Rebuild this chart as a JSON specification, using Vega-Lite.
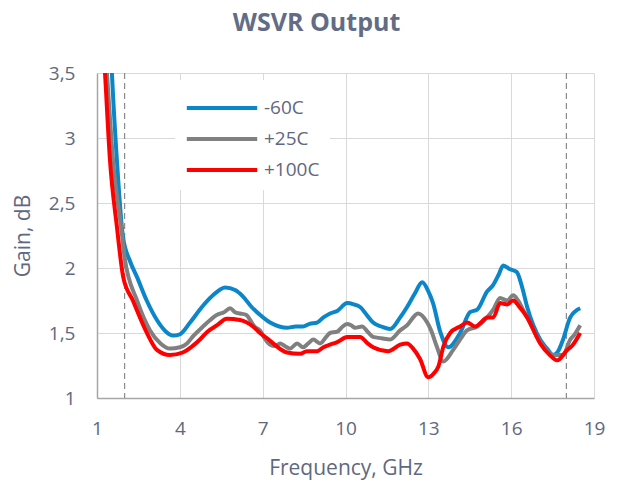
{
  "$schema": "https://vega.github.io/schema/vega-lite/v6.json",
  "width": 497,
  "height": 325,
  "autosize": {"type": "none"},
  "padding": {"left": 97, "top": 73, "right": 27, "bottom": 85},
  "background": "white",
  "config": {
    "font": "Open Sans",
    "view": {"stroke": null},
    "axis": {
      "labelFont": "Open Sans",
      "titleFont": "Open Sans",
      "labelColor": "#5f6880",
      "titleColor": "#5f6880",
      "labelFontSize": 19,
      "titleFontSize": 21,
      "titleFontWeight": "normal",
      "gridColor": "#d9d9d9",
      "gridWidth": 1,
      "domainColor": "#a6a6a6",
      "domainWidth": 1.5,
      "ticks": false,
      "labelFlush": false
    }
  },
  "title": {
    "text": "WSVR Output",
    "font": "Open Sans",
    "fontSize": 25,
    "fontWeight": "bold",
    "color": "#636c85",
    "anchor": "middle",
    "dx": -29,
    "offset": 28
  },
  "datasets": {
    "curves": [
      {"f": 1.4, "g": 4.2, "s": "-60C"},
      {"f": 1.54, "g": 3.5, "s": "-60C"},
      {"f": 1.72, "g": 2.83, "s": "-60C"},
      {"f": 1.94, "g": 2.24, "s": "-60C"},
      {"f": 2.2, "g": 2.05, "s": "-60C"},
      {"f": 2.45, "g": 1.93, "s": "-60C"},
      {"f": 2.8, "g": 1.75, "s": "-60C"},
      {"f": 3.17, "g": 1.6, "s": "-60C"},
      {"f": 3.5, "g": 1.51, "s": "-60C"},
      {"f": 3.75, "g": 1.48, "s": "-60C"},
      {"f": 4.0, "g": 1.49, "s": "-60C"},
      {"f": 4.37, "g": 1.58, "s": "-60C"},
      {"f": 4.8, "g": 1.7, "s": "-60C"},
      {"f": 5.2, "g": 1.79, "s": "-60C"},
      {"f": 5.64, "g": 1.85, "s": "-60C"},
      {"f": 6.0, "g": 1.83, "s": "-60C"},
      {"f": 6.29, "g": 1.78, "s": "-60C"},
      {"f": 6.6, "g": 1.7, "s": "-60C"},
      {"f": 6.9, "g": 1.64, "s": "-60C"},
      {"f": 7.27, "g": 1.58, "s": "-60C"},
      {"f": 7.6, "g": 1.55, "s": "-60C"},
      {"f": 7.88, "g": 1.54, "s": "-60C"},
      {"f": 8.2, "g": 1.55, "s": "-60C"},
      {"f": 8.46, "g": 1.55, "s": "-60C"},
      {"f": 8.7, "g": 1.57, "s": "-60C"},
      {"f": 8.97, "g": 1.58, "s": "-60C"},
      {"f": 9.2, "g": 1.62, "s": "-60C"},
      {"f": 9.44, "g": 1.65, "s": "-60C"},
      {"f": 9.7, "g": 1.67, "s": "-60C"},
      {"f": 10.06, "g": 1.73, "s": "-60C"},
      {"f": 10.3, "g": 1.72, "s": "-60C"},
      {"f": 10.53, "g": 1.7, "s": "-60C"},
      {"f": 10.8, "g": 1.63, "s": "-60C"},
      {"f": 11.0, "g": 1.58, "s": "-60C"},
      {"f": 11.3, "g": 1.55, "s": "-60C"},
      {"f": 11.62, "g": 1.53, "s": "-60C"},
      {"f": 11.98, "g": 1.62, "s": "-60C"},
      {"f": 12.23, "g": 1.7, "s": "-60C"},
      {"f": 12.5, "g": 1.8, "s": "-60C"},
      {"f": 12.78, "g": 1.89, "s": "-60C"},
      {"f": 13.0, "g": 1.82, "s": "-60C"},
      {"f": 13.17, "g": 1.73, "s": "-60C"},
      {"f": 13.43, "g": 1.51, "s": "-60C"},
      {"f": 13.72, "g": 1.39, "s": "-60C"},
      {"f": 14.15, "g": 1.5, "s": "-60C"},
      {"f": 14.51, "g": 1.66, "s": "-60C"},
      {"f": 14.77, "g": 1.68, "s": "-60C"},
      {"f": 15.13, "g": 1.82, "s": "-60C"},
      {"f": 15.35, "g": 1.87, "s": "-60C"},
      {"f": 15.55, "g": 1.95, "s": "-60C"},
      {"f": 15.71, "g": 2.02, "s": "-60C"},
      {"f": 15.96, "g": 1.99, "s": "-60C"},
      {"f": 16.2, "g": 1.97, "s": "-60C"},
      {"f": 16.4, "g": 1.85, "s": "-60C"},
      {"f": 16.58, "g": 1.7, "s": "-60C"},
      {"f": 17.05, "g": 1.45, "s": "-60C"},
      {"f": 17.3, "g": 1.38, "s": "-60C"},
      {"f": 17.52, "g": 1.33, "s": "-60C"},
      {"f": 17.7, "g": 1.36, "s": "-60C"},
      {"f": 17.88, "g": 1.45, "s": "-60C"},
      {"f": 18.14, "g": 1.62, "s": "-60C"},
      {"f": 18.5, "g": 1.69, "s": "-60C"},

      {"f": 1.2, "g": 4.0, "s": "+25C"},
      {"f": 1.36, "g": 3.5, "s": "+25C"},
      {"f": 1.58, "g": 2.83, "s": "+25C"},
      {"f": 1.9, "g": 2.27, "s": "+25C"},
      {"f": 2.0, "g": 2.08, "s": "+25C"},
      {"f": 2.45, "g": 1.75, "s": "+25C"},
      {"f": 2.92, "g": 1.52, "s": "+25C"},
      {"f": 3.3, "g": 1.42, "s": "+25C"},
      {"f": 3.64, "g": 1.38, "s": "+25C"},
      {"f": 4.0, "g": 1.39, "s": "+25C"},
      {"f": 4.26, "g": 1.42, "s": "+25C"},
      {"f": 4.5, "g": 1.48, "s": "+25C"},
      {"f": 4.84, "g": 1.55, "s": "+25C"},
      {"f": 5.1, "g": 1.6, "s": "+25C"},
      {"f": 5.35, "g": 1.64, "s": "+25C"},
      {"f": 5.6, "g": 1.66, "s": "+25C"},
      {"f": 5.82, "g": 1.69, "s": "+25C"},
      {"f": 6.0, "g": 1.66, "s": "+25C"},
      {"f": 6.18, "g": 1.65, "s": "+25C"},
      {"f": 6.4, "g": 1.64, "s": "+25C"},
      {"f": 6.7, "g": 1.55, "s": "+25C"},
      {"f": 6.9, "g": 1.52, "s": "+25C"},
      {"f": 7.1, "g": 1.45, "s": "+25C"},
      {"f": 7.27, "g": 1.41, "s": "+25C"},
      {"f": 7.45, "g": 1.4, "s": "+25C"},
      {"f": 7.63, "g": 1.42, "s": "+25C"},
      {"f": 7.8, "g": 1.4, "s": "+25C"},
      {"f": 7.99, "g": 1.38, "s": "+25C"},
      {"f": 8.25, "g": 1.42, "s": "+25C"},
      {"f": 8.46, "g": 1.39, "s": "+25C"},
      {"f": 8.65, "g": 1.42, "s": "+25C"},
      {"f": 8.83, "g": 1.45, "s": "+25C"},
      {"f": 9.08, "g": 1.42, "s": "+25C"},
      {"f": 9.3, "g": 1.47, "s": "+25C"},
      {"f": 9.44, "g": 1.5, "s": "+25C"},
      {"f": 9.7, "g": 1.51, "s": "+25C"},
      {"f": 9.9, "g": 1.55, "s": "+25C"},
      {"f": 10.06, "g": 1.57, "s": "+25C"},
      {"f": 10.2, "g": 1.56, "s": "+25C"},
      {"f": 10.35, "g": 1.54, "s": "+25C"},
      {"f": 10.6, "g": 1.55, "s": "+25C"},
      {"f": 10.8, "g": 1.51, "s": "+25C"},
      {"f": 11.0, "g": 1.47, "s": "+25C"},
      {"f": 11.3, "g": 1.46, "s": "+25C"},
      {"f": 11.62, "g": 1.45, "s": "+25C"},
      {"f": 11.98, "g": 1.52, "s": "+25C"},
      {"f": 12.23, "g": 1.56, "s": "+25C"},
      {"f": 12.63, "g": 1.65, "s": "+25C"},
      {"f": 12.96, "g": 1.58, "s": "+25C"},
      {"f": 13.1, "g": 1.52, "s": "+25C"},
      {"f": 13.3, "g": 1.4, "s": "+25C"},
      {"f": 13.54, "g": 1.28, "s": "+25C"},
      {"f": 13.9, "g": 1.37, "s": "+25C"},
      {"f": 14.15, "g": 1.45, "s": "+25C"},
      {"f": 14.4, "g": 1.52, "s": "+25C"},
      {"f": 14.77, "g": 1.55, "s": "+25C"},
      {"f": 15.13, "g": 1.62, "s": "+25C"},
      {"f": 15.35, "g": 1.68, "s": "+25C"},
      {"f": 15.6, "g": 1.77, "s": "+25C"},
      {"f": 15.86, "g": 1.75, "s": "+25C"},
      {"f": 16.07, "g": 1.79, "s": "+25C"},
      {"f": 16.25, "g": 1.75, "s": "+25C"},
      {"f": 16.43, "g": 1.68, "s": "+25C"},
      {"f": 16.7, "g": 1.57, "s": "+25C"},
      {"f": 16.94, "g": 1.47, "s": "+25C"},
      {"f": 17.2, "g": 1.39, "s": "+25C"},
      {"f": 17.52, "g": 1.33, "s": "+25C"},
      {"f": 17.88, "g": 1.33, "s": "+25C"},
      {"f": 18.14, "g": 1.45, "s": "+25C"},
      {"f": 18.3, "g": 1.49, "s": "+25C"},
      {"f": 18.5, "g": 1.56, "s": "+25C"},

      {"f": 1.15, "g": 4.0, "s": "+100C"},
      {"f": 1.29, "g": 3.5, "s": "+100C"},
      {"f": 1.47, "g": 2.83, "s": "+100C"},
      {"f": 1.72, "g": 2.32, "s": "+100C"},
      {"f": 1.95, "g": 1.93, "s": "+100C"},
      {"f": 2.3, "g": 1.75, "s": "+100C"},
      {"f": 2.81, "g": 1.5, "s": "+100C"},
      {"f": 3.17, "g": 1.37, "s": "+100C"},
      {"f": 3.64, "g": 1.33, "s": "+100C"},
      {"f": 4.1, "g": 1.35, "s": "+100C"},
      {"f": 4.4, "g": 1.39, "s": "+100C"},
      {"f": 4.73, "g": 1.45, "s": "+100C"},
      {"f": 5.0, "g": 1.51, "s": "+100C"},
      {"f": 5.35, "g": 1.56, "s": "+100C"},
      {"f": 5.7, "g": 1.61, "s": "+100C"},
      {"f": 6.18, "g": 1.6, "s": "+100C"},
      {"f": 6.65, "g": 1.55, "s": "+100C"},
      {"f": 6.9, "g": 1.5, "s": "+100C"},
      {"f": 7.16, "g": 1.46, "s": "+100C"},
      {"f": 7.38, "g": 1.42, "s": "+100C"},
      {"f": 7.88, "g": 1.35, "s": "+100C"},
      {"f": 8.36, "g": 1.34, "s": "+100C"},
      {"f": 8.6, "g": 1.36, "s": "+100C"},
      {"f": 8.97, "g": 1.36, "s": "+100C"},
      {"f": 9.2, "g": 1.39, "s": "+100C"},
      {"f": 9.44, "g": 1.41, "s": "+100C"},
      {"f": 9.7, "g": 1.43, "s": "+100C"},
      {"f": 10.06, "g": 1.47, "s": "+100C"},
      {"f": 10.53, "g": 1.47, "s": "+100C"},
      {"f": 10.8, "g": 1.42, "s": "+100C"},
      {"f": 11.0, "g": 1.39, "s": "+100C"},
      {"f": 11.54, "g": 1.36, "s": "+100C"},
      {"f": 11.98, "g": 1.41, "s": "+100C"},
      {"f": 12.23, "g": 1.42, "s": "+100C"},
      {"f": 12.45, "g": 1.38, "s": "+100C"},
      {"f": 12.7, "g": 1.3, "s": "+100C"},
      {"f": 12.99, "g": 1.16, "s": "+100C"},
      {"f": 13.2, "g": 1.19, "s": "+100C"},
      {"f": 13.36, "g": 1.24, "s": "+100C"},
      {"f": 13.55, "g": 1.4, "s": "+100C"},
      {"f": 13.79, "g": 1.5, "s": "+100C"},
      {"f": 14.15, "g": 1.55, "s": "+100C"},
      {"f": 14.41, "g": 1.58, "s": "+100C"},
      {"f": 14.7, "g": 1.55, "s": "+100C"},
      {"f": 14.9, "g": 1.58, "s": "+100C"},
      {"f": 15.13, "g": 1.62, "s": "+100C"},
      {"f": 15.35, "g": 1.62, "s": "+100C"},
      {"f": 15.6, "g": 1.73, "s": "+100C"},
      {"f": 15.86, "g": 1.72, "s": "+100C"},
      {"f": 16.07, "g": 1.75, "s": "+100C"},
      {"f": 16.3, "g": 1.7, "s": "+100C"},
      {"f": 16.58, "g": 1.62, "s": "+100C"},
      {"f": 17.05, "g": 1.42, "s": "+100C"},
      {"f": 17.4, "g": 1.33, "s": "+100C"},
      {"f": 17.67, "g": 1.29, "s": "+100C"},
      {"f": 18.03, "g": 1.37, "s": "+100C"},
      {"f": 18.2, "g": 1.4, "s": "+100C"},
      {"f": 18.5, "g": 1.5, "s": "+100C"}
    ],
    "markers": [{"f": 2}, {"f": 18}]
  },
  "layer": [
    {
      "data": {"name": "markers"},
      "mark": {"type": "rule", "color": "#8c8c8c", "strokeWidth": 1.2, "strokeDash": [6, 4]},
      "encoding": {
        "x": {"field": "f", "type": "quantitative", "scale": {"domain": [1, 19]}}
      }
    },
    {
      "data": {"name": "curves"},
      "mark": {"type": "line", "strokeWidth": 4, "interpolate": "monotone", "clip": true},
      "encoding": {
        "x": {
          "field": "f",
          "type": "quantitative",
          "title": "Frequency, GHz",
          "scale": {"domain": [1, 19], "nice": false, "zero": false},
          "axis": {"values": [1, 4, 7, 10, 13, 16, 19], "labelPadding": 21, "titlePadding": 19}
        },
        "y": {
          "field": "g",
          "type": "quantitative",
          "title": "Gain, dB",
          "scale": {"domain": [1, 3.5], "nice": false, "zero": false},
          "axis": {
            "values": [1, 1.5, 2, 2.5, 3, 3.5],
            "labelExpr": "replace(toString(datum.value), '.', ',')",
            "labelPadding": 22,
            "titlePadding": 15
          }
        },
        "color": {
          "field": "s",
          "type": "nominal",
          "scale": {"domain": ["-60C", "+25C", "+100C"], "range": ["#0a86c9", "#808080", "#ff0000"]},
          "legend": {
            "title": null,
            "orient": "none",
            "legendX": 78,
            "legendY": 7,
            "fillColor": "white",
            "padding": 10,
            "symbolType": "M-2.2,0H2.2",
            "symbolSize": 1024,
            "symbolStrokeWidth": 4,
            "symbolOffset": 19,
            "labelFont": "Open Sans",
            "labelFontSize": 19,
            "labelColor": "#5f6880",
            "labelOffset": 24,
            "rowPadding": 3
          }
        },
        "order": {"field": "f", "type": "quantitative"}
      }
    }
  ]
}
